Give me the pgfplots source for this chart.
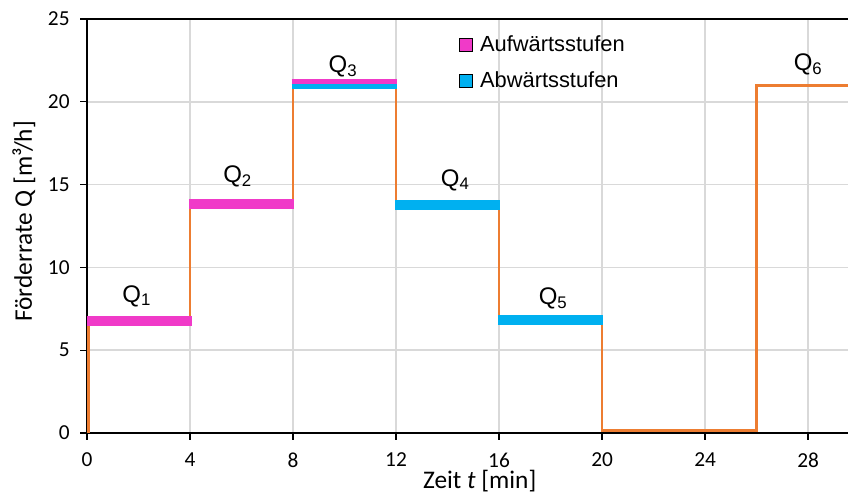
\documentclass[border=0pt]{standalone}
\usepackage{fontspec}
\setmainfont{Carlito}
\newfontfamily\arial{Liberation Sans}
\usepackage{pgfplots}
\pgfplotsset{compat=1.18}
\definecolor{pinkc}{RGB}{240,58,200}
\definecolor{cyanc}{RGB}{0,176,240}
\definecolor{orangec}{RGB}{237,125,49}
\definecolor{gridc}{RGB}{217,217,217}
\begin{document}
\begin{tikzpicture}
\begin{axis}[
  scale only axis,
  width=570.75pt, height=310.5pt,
  xmin=0, xmax=29.55, ymin=0, ymax=25,
  xtick={0,4,...,28}, ytick={0,5,...,25},
  axis x line=box, axis y line=left,
  x axis line style={-, line width=1.1pt},
  y axis line style={-, line width=1.1pt},
  tick pos=left, tick align=outside,
  major tick length=5pt,
  tick style={black, line width=1pt},
  grid=major,
  major grid style={gridc, line width=1.1pt},
  /pgf/number format/assume math mode=true,
  tick label style={font=\fontsize{16}{19}\selectfont},
  xticklabel style={inner sep=1pt, yshift=-8.6pt},
  yticklabel style={xshift=-4.5pt},
  xlabel={Zeit \textit{t} [min]},
  ylabel={Förderrate Q [m³/h]},
  label style={font=\fontsize{19}{22}\selectfont},
  xlabel style={at={(axis description cs:0.516,0)}, anchor=base, inner sep=1pt, yshift=-41.5pt},
  ylabel style={at={(axis description cs:-0.0723,0.511)}, anchor=base},
  legend style={draw=none, fill=none, at={(axis cs:14.45,24.1)}, anchor=north west,
    font=\arial\fontsize{16.4}{19}\selectfont, row sep=10.5pt, inner sep=0pt,
    nodes={inner sep=1.5pt},
    /tikz/every odd column/.append style={column sep=4pt}},
  legend cell align=left,
  legend image code/.code={\fill[#1] (0pt,-4.8pt) rectangle (9.6pt,4.8pt);},
]
\addplot[orangec, line width=1.9pt, forget plot] coordinates {
 (0.06,0) (0.06,6.8) (4,6.8) (4,13.8) (8,13.8) (8,21) (12,21) (12,13.75) (16,13.75)
 (16,6.8) (20,6.8) (20,0.15) (26,0.15) (26,21) (29.55,21)};
% Aufwaerts
\addplot[pinkc, line width=7.5pt, forget plot] coordinates {(0,6.77) (4.08,6.77)};
\addplot[pinkc, line width=7.5pt, forget plot] coordinates {(3.96,13.81) (8.04,13.81)};
\addplot[pinkc, line width=3.75pt, forget plot] coordinates {(7.95,21.21) (12.02,21.21)};
% Abwaerts
\addplot[cyanc, line width=3.75pt, forget plot] coordinates {(7.95,20.9) (12.02,20.9)};
\addplot[cyanc, line width=7.5pt, forget plot] coordinates {(11.96,13.75) (16.04,13.75)};
\addplot[cyanc, line width=7.5pt, forget plot] coordinates {(15.96,6.8) (20.03,6.8)};
\addlegendimage{fill=pinkc}
\addlegendentry{Aufwärtsstufen}
\addlegendimage{fill=cyanc}
\addlegendentry{Abwärtsstufen}
\begin{scope}[every node/.style={font=\arial\fontsize{18}{21}\selectfont, anchor=base, inner sep=0pt}]
\node at (axis cs:1.93,7.91) {Q\textsubscript{1}};
\node at (axis cs:5.85,15.1) {Q\textsubscript{2}};
\node at (axis cs:9.94,21.74) {Q\textsubscript{3}};
\node at (axis cs:14.3,14.9) {Q\textsubscript{4}};
\node at (axis cs:18.1,7.75) {Q\textsubscript{5}};
\node at (axis cs:28.0,21.86) {Q\textsubscript{6}};
\end{scope}
\end{axis}
\pgfresetboundingbox
\path (-65.25pt,-46.5pt) rectangle (570.75pt,324.75pt);
\end{tikzpicture}
\end{document}
